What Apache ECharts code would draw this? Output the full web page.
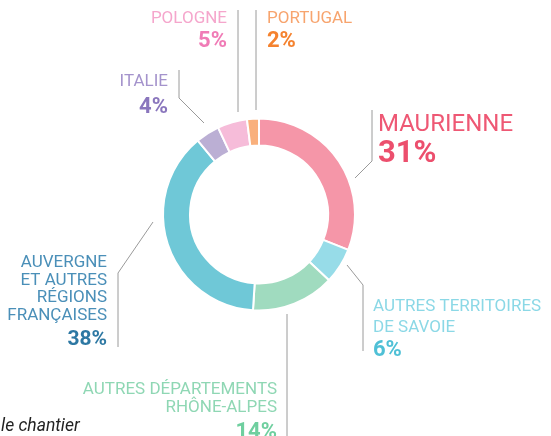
<!DOCTYPE html>
<html>
<head>
<meta charset="utf-8">
<script src="https://cdn.jsdelivr.net/npm/echarts@6/dist/echarts.min.js"></script>
<style>
  html, body { margin: 0; padding: 0; background: #fff; }
  #chart { width: 551px; height: 436px; }
</style>
</head>
<body>
<div id="chart"></div>
<script>
// données
const categories = [
  'MAURIENNE',
  'AUTRES TERRITOIRES\nDE SAVOIE',
  'AUTRES DÉPARTEMENTS\nRHÔNE-ALPES',
  'AUVERGNE\nET AUTRES\nRÉGIONS\nFRANÇAISES',
  'ITALIE',
  'POLOGNE',
  'PORTUGAL'
]
const values = [31, 6, 14, 38, 4, 5, 2]

// couleurs : part, nom, pourcentage
const sliceColors = ['#f596a8', '#97dce8', '#a0dbbf', '#6fc8d7', '#bbafd4', '#f6bcd9', '#f9b07c']
const nameColors = ['#ee5874', '#8bd8e6', '#8fd7b4', '#4a8fb8', '#a493cc', '#f5a6cc', '#f7a46e']
const pctColors = ['#ec4f6d', '#4fc0d6', '#6fcf9f', '#2d78a3', '#8a76bd', '#f07bb6', '#f5822e']

// placement des étiquettes et des traits
const labelAnchors = [
  { x: 378, y: 111, align: 'left', line: [[355, 178], [372, 161], [372, 110]] },
  { x: 373, y: 296, align: 'left', line: [[347, 265], [363, 285], [363, 351]] },
  { x: 277, y: 381, align: 'right', line: [[287, 314], [287, 380], [287, 436]] },
  { x: 107, y: 254, align: 'right', line: [[153, 222], [118, 273], [118, 347]] },
  { x: 168, y: 73, align: 'right', line: [[204, 123], [179, 98], [179, 70]] },
  { x: 227, y: 10, align: 'right', line: [[238, 112], [238, 60], [238, 10]] },
  { x: 267, y: 10, align: 'left', line: [[256, 110], [256, 60], [256, 10]] }
]
const nameSizes = [24, 17, 17, 17, 17, 17, 17]
const nameLines = [28, 21, 18, 17.6, 18, 18, 18]
const pctSizes = [31, 22, 22, 21, 22, 22, 22]
const pctLines = [31, 25, 31, 31, 32, 27, 27]

const chart = echarts.init(document.getElementById('chart'))

const data = values.map((v, i) => ({
  name: categories[i],
  value: v,
  itemStyle: { color: sliceColors[i] },
  label: {
    align: labelAnchors[i].align,
    rich: {
      n: {
        fontFamily: 'Roboto',
        fontSize: nameSizes[i],
        lineHeight: nameLines[i],
        color: nameColors[i],
        align: labelAnchors[i].align
      },
      p: {
        fontFamily: 'Roboto',
        fontWeight: 'bold',
        fontSize: pctSizes[i],
        lineHeight: pctLines[i],
        color: pctColors[i],
        align: labelAnchors[i].align
      }
    }
  }
}))

chart.setOption({
  animation: false,
  graphic: [{
    type: 'text',
    left: 1,
    top: 418,
    style: {
      text: 'le chantier',
      fontFamily: 'Roboto',
      fontStyle: 'italic',
      fontSize: 17.5,
      fill: '#222'
    }
  }],
  series: [{
    type: 'pie',
    center: [259, 214.5],
    radius: [69, 96],
    startAngle: 90,
    clockwise: true,
    itemStyle: { borderColor: '#fff', borderWidth: 2 },
    label: {
      show: true,
      overflow: 'none',
      formatter: p => '{n|' + p.name + '}\n{p|' + p.value + '%}'
    },
    labelLine: {
      show: true,
      lineStyle: { color: '#9a9a9a', width: 1 }
    },
    labelLayout: params => {
      const a = labelAnchors[params.dataIndex]
      return {
        x: a.x,
        y: a.y,
        align: a.align,
        verticalAlign: 'top',
        labelLinePoints: a.line
      }
    },
    emphasis: { disabled: true },
    data: data
  }]
})
</script>
</body>
</html>
